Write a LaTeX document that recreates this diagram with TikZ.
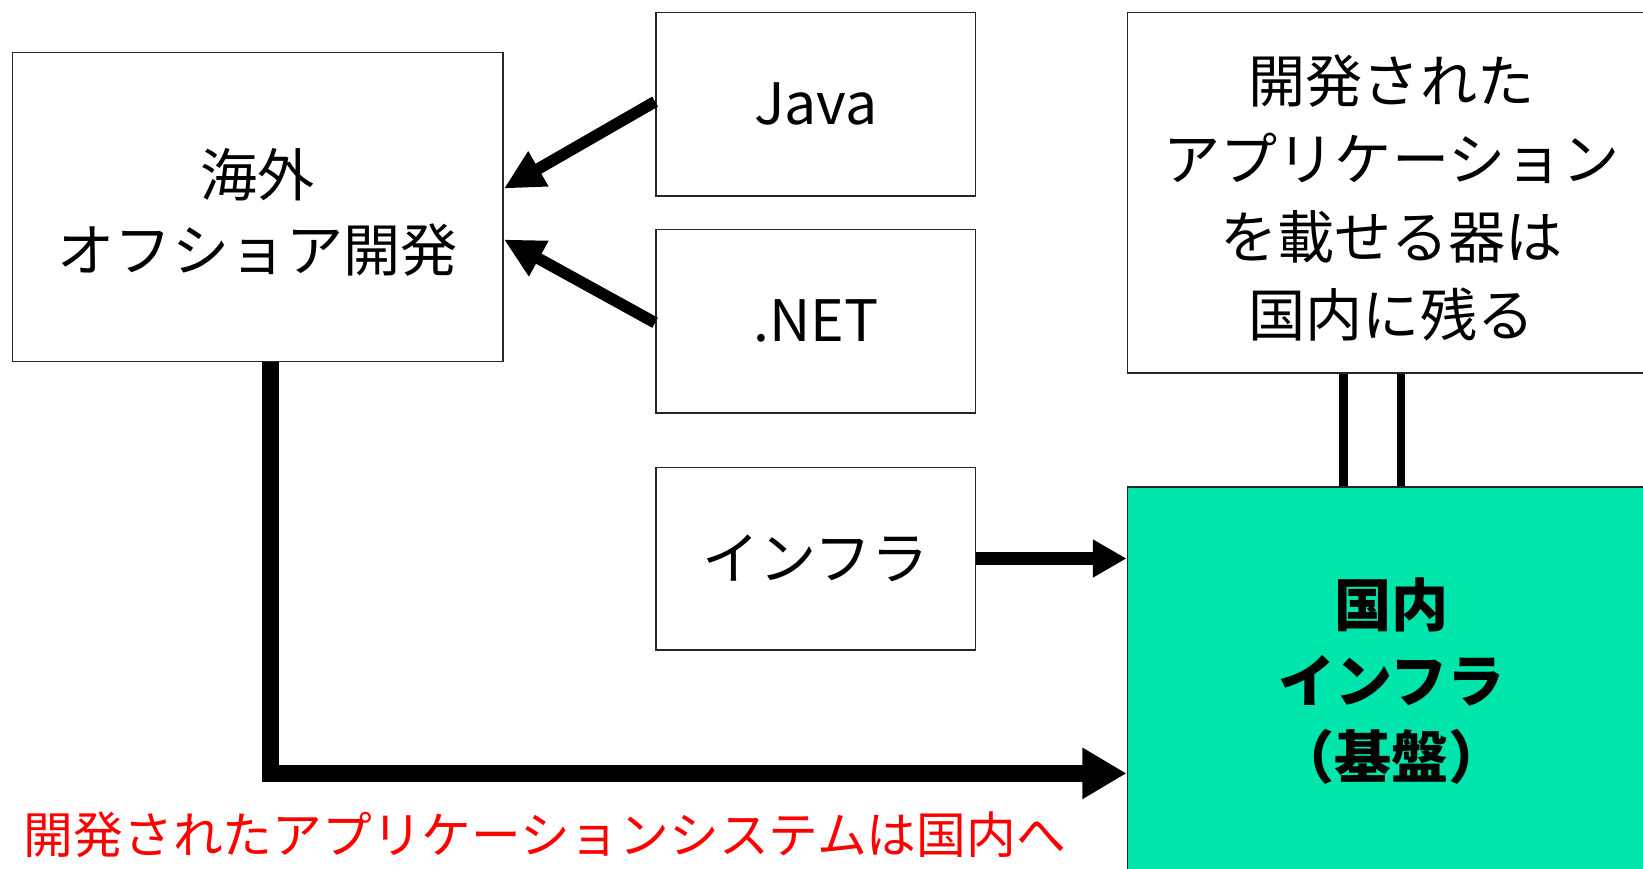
\documentclass[tikz,border=0pt]{standalone}
\usepackage{fontspec}
\setmainfont{Noto Sans CJK JP}
\usetikzlibrary{arrows.meta,calc}
\definecolor{grn}{HTML}{00E5AB}
\tikzset{
  box/.style={draw=black!85, line width=0.015cm, inner sep=0pt, align=center, font=\fontsize{15.5}{20.5}\selectfont},
  thinarr/.style={line width=0.11cm, -{Triangle[length=0.38cm,width=0.36cm]}},
  midarr/.style={line width=0.115cm, -{Triangle[length=0.32cm,width=0.34cm]}},
  bigarr/.style={line width=0.16cm, -{Triangle[length=0.42cm,width=0.46cm]}},
  pillar/.style={line width=0.08cm}
}
\begin{document}
\begin{tikzpicture}[x=0.01cm,y=-0.01cm]
\path[use as bounding box, clip] (0,0) rectangle (1568,829);
\fill[white] (0,0) rectangle (1568,829);
\node[box, minimum width=4.68cm, minimum height=2.95cm] (kaigai) at (246,197.5) {};
\node[align=center, inner sep=0pt, font=\fontsize{15.5}{20.5}\selectfont] (kaigaitext) at ($(kaigai.center)+(0cm,-0.05cm)$) {海外\\オフショア開発};
\node[box, minimum width=3.05cm, minimum height=1.75cm] (java) at (778.5,99.5) {Java};
\node[box, minimum width=3.05cm, minimum height=1.75cm] (net) at (778.5,306.5) {.NET};
\node[box, minimum width=3.05cm, minimum height=1.74cm] (infra) at (778.5,533) {インフラ};
\node[box, minimum width=5.04cm, minimum height=3.44cm] (tr) at (1328,184) {};
\node[align=center, inner sep=0pt, font=\fontsize{15.5}{21.1}\selectfont] (trtext) at ($(tr.center)+(0cm,-0.05cm)$) {開発された\\アプリケーション\\を載せる器は\\国内に残る};
\node[box, fill=grn, minimum width=5.04cm, minimum height=3.70cm, font=\fontsize{15.5}{20.7}\selectfont\bfseries] (green) at (1328,650) {国内\\インフラ\\（基盤）};
\node[anchor=west, inner sep=0pt, text=red, font=\fontsize{13.5}{16}\selectfont] (note) at (22,797) {開発されたアプリケーションシステムは国内へ};
\draw[thinarr] ($(java.west)+(0cm,0.025cm)$) -- ($(kaigai.east)+(0cm,0.175cm)$);
\draw[thinarr] ($(net.west)+(0cm,-0.015cm)$) -- ($(kaigai.east)+(0cm,-0.31cm)$);
\draw[midarr] (infra.east) -- (infra.east -| green.west);
\draw[bigarr] ($(kaigai.south)+(0.12cm,0)$) |- ($(green.west)+(0cm,-0.88cm)$);
\draw[pillar] ($(tr.south west)+(2.07cm,0)$) -- ($(green.north west)+(2.07cm,0)$);
\draw[pillar] ($(tr.south west)+(2.62cm,0)$) -- ($(green.north west)+(2.62cm,0)$);
\end{tikzpicture}
\end{document}
